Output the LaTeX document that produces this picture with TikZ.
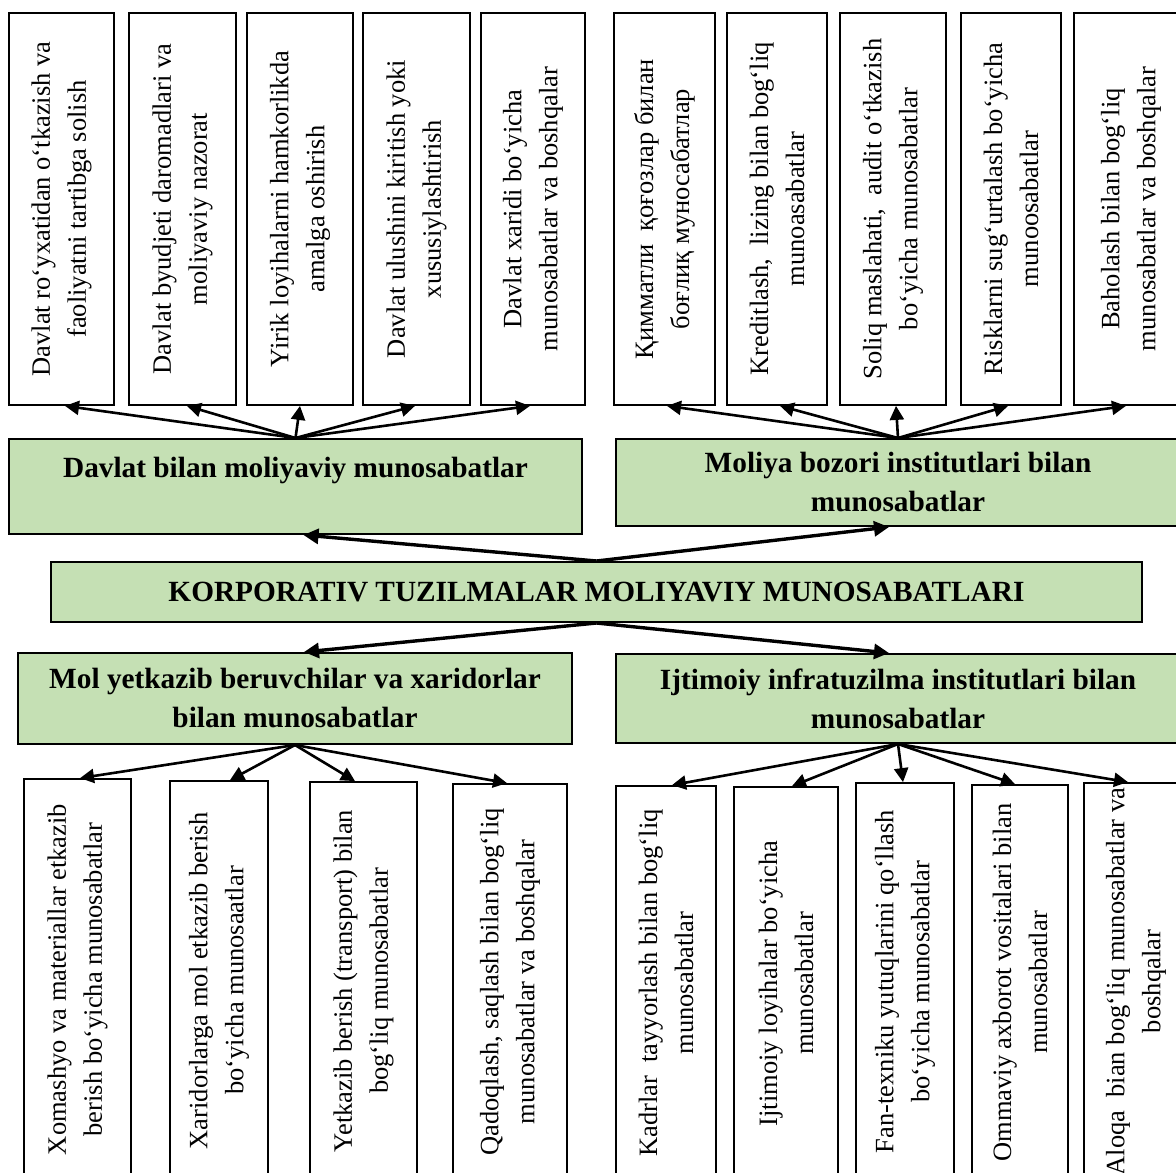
\documentclass[tikz,border=0pt]{standalone}
\usepackage{fontspec}
\setmainfont{Liberation Serif}
\usetikzlibrary{arrows.meta}
\definecolor{gfill}{RGB}{197,224,180}
\begin{document}
\begin{tikzpicture}[x=1pt,y=-1pt,
  vbox/.style={draw, line width=1.8pt, rotate=90, align=center, inner sep=0pt,
    font=\fontsize{26.5}{36}\selectfont},
  gbox/.style={draw, line width=2pt, fill=gfill, align=center, inner sep=0pt,
    font=\fontsize{29.3}{39}\selectfont\bfseries},
  fan/.style={line width=2.6pt, -{Triangle[length=14pt,width=14pt]}},
  bigarr/.style={line width=3.4pt, -{Triangle[length=15pt,width=15pt]}}
]
\useasboundingbox (0,0) rectangle (1176,1173);
\clip (0,0) rectangle (1176,1173);

% ---- top boxes (government)
\node[vbox, minimum width=392pt, minimum height=105pt] (t1) at (61.5,209)
  {Davlat ro‘yxatidan o‘tkazish va\\faoliyatni tartibga solish};
\node[vbox, minimum width=392pt, minimum height=107pt] (t2) at (182.5,209)
  {Davlat byudjeti daromadlari va\\moliyaviy nazorat};
\node[vbox, minimum width=392pt, minimum height=106pt] (t3) at (300,209)
  {Yirik loyihalarni hamkorlikda\\amalga oshirish};
\node[vbox, minimum width=392pt, minimum height=107pt] (t4) at (416.5,209)
  {Davlat ulushini kiritish yoki\\xususiylashtirish};
\node[vbox, minimum width=392pt, minimum height=104pt] (t5) at (533,209)
  {Davlat xaridi bo‘yicha\\munosabatlar va boshqalar};

% ---- top boxes (financial market)
\node[vbox, minimum width=392pt, minimum height=101pt] (t6) at (664.5,209)
  {Қимматли~ қоғозлар билан\\боғлиқ муносабатлар};
\node[vbox, minimum width=392pt, minimum height=100pt] (t7) at (777,209)
  {Kreditlash,~ lizing bilan bog‘liq\\munoasabatlar};
\node[vbox, minimum width=392pt, minimum height=106pt] (t8) at (893,209)
  {Soliq maslahati,~ audit o‘tkazish\\bo‘yicha munosabatlar};
\node[vbox, minimum width=392pt, minimum height=100pt] (t9) at (1011,209)
  {Risklarni sug‘urtalash bo‘yicha\\munoosabatlar};
\node[vbox, minimum width=392pt, minimum height=114pt] (t10) at (1131,209)
  {Baholash bilan bog‘liq\\munosabatlar va boshqalar};

% ---- green boxes
\node[gbox, minimum width=573pt, minimum height=95pt] (gd) at (295.5,486.5)
  {Davlat bilan moliyaviy munosabatlar\\~};
\node[gbox, minimum width=564pt, minimum height=87pt] (gm) at (898,482.5)
  {Moliya bozori institutlari bilan\\munosabatlar};
\node[gbox, minimum width=1091pt, minimum height=60pt] (main) at (596.5,592)
  {KORPORATIV TUZILMALAR MOLIYAVIY MUNOSABATLARI};
\node[gbox, minimum width=554pt, minimum height=91pt] (gs) at (295,698.5)
  {Mol yetkazib beruvchilar va xaridorlar\\bilan munosabatlar};
\node[gbox, minimum width=564pt, minimum height=89pt] (gi) at (898,698.5)
  {Ijtimoiy infratuzilma institutlari bilan\\munosabatlar};

% ---- bottom boxes (suppliers)
\node[vbox, minimum width=401pt, minimum height=107pt] (b1) at (77.5,979.5)
  {Xomashyo va materiallar etkazib\\berish bo‘yicha munosabatlar};
\node[vbox, minimum width=399pt, minimum height=98pt] (b2) at (219,980.5)
  {Xaridorlarga mol etkazib berish\\bo‘yicha munosaatlar};
\node[vbox, minimum width=398pt, minimum height=107pt] (b3) at (363.5,981)
  {Yetkazib berish (transport) bilan\\bog‘liq munosabatlar};
\node[vbox, minimum width=396pt, minimum height=114pt] (b4) at (510,982)
  {Qadoqlash, saqlash bilan bog‘liq\\munosabatlar va boshqalar};

% ---- bottom boxes (social infrastructure)
\node[vbox, minimum width=394pt, minimum height=100pt] (r1) at (666,983)
  {Kadrlar~ tayyorlash bilan bog‘liq\\munosabatlar};
\node[vbox, minimum width=393pt, minimum height=104pt] (r2) at (786,983.5)
  {Ijtimoiy loyihalar bo‘yicha\\munosabatlar};
\node[vbox, minimum width=397pt, minimum height=98pt] (r3) at (905,981.5)
  {Fan-texniku yutuqlarini qo‘llash\\bo‘yicha munosabatlar};
\node[vbox, minimum width=395pt, minimum height=96pt] (r4) at (1020,982.5)
  {Ommaviy axborot vositalari bilan\\munosabatlar};
\node[vbox, minimum width=397pt, minimum height=104pt] (r5) at (1136,981.5)
  {Aloqa~ bian bog‘liq munosabatlar va\\boshqalar};

% ---- fans
\foreach \n/\d in {t1/3.5, t2/4.5, t3/0, t4/-1.5, t5/-3}
  \draw[fan] (gd.north) -- ([xshift=\d pt]\n.west);
\foreach \n/\d in {t6/2.5, t7/3, t8/3, t9/-3, t10/-5}
  \draw[fan] (gm.north) -- ([xshift=\d pt]\n.west);
\foreach \n/\d in {b1/2.5, b2/11, b3/-8.5, b4/-3}
  \draw[fan] (gs.south) -- ([xshift=\d pt]\n.east);
\foreach \n/\d in {r1/6, r2/6, r3/-2, r4/-5, r5/-8}
  \draw[fan] (gi.south) -- ([xshift=\d pt]\n.east);

% ---- central arrows
\draw[bigarr] (main.north) -- ([xshift=8pt]gd.south);
\draw[bigarr] (main.north) -- ([xshift=-9pt]gm.south);
\draw[bigarr] (main.south) -- ([xshift=9pt]gs.north);
\draw[bigarr] (main.south) -- ([xshift=-9pt]gi.north);
\end{tikzpicture}
\end{document}
